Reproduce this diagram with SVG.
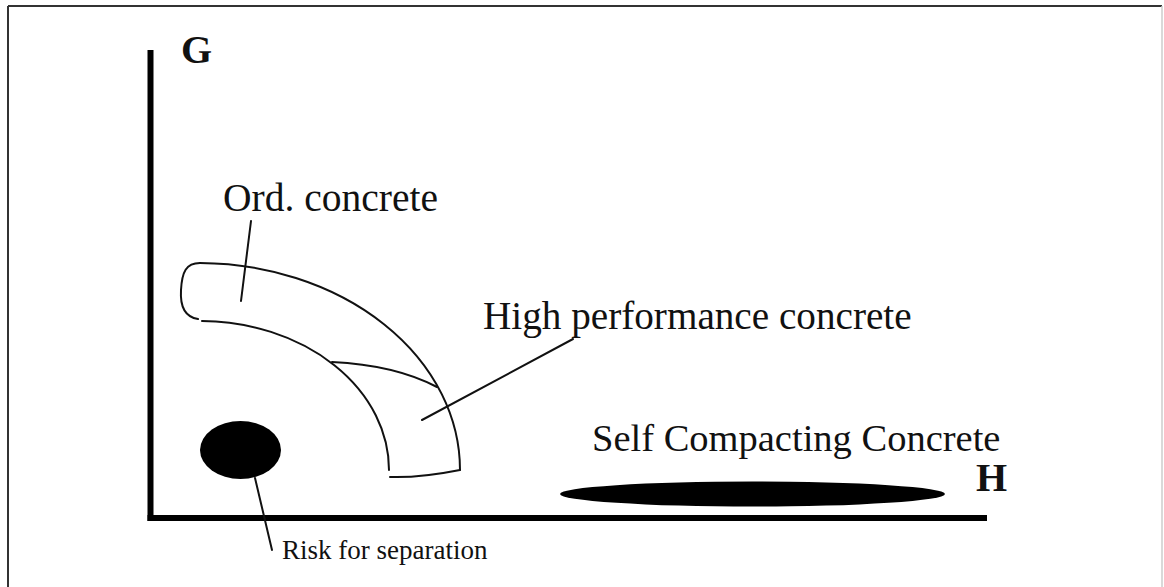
<svg xmlns="http://www.w3.org/2000/svg" width="1164" height="587" viewBox="0 0 1164 587">
<style>
.t{font-family:"Liberation Serif","Times New Roman",serif;fill:#111}
.ax{font-family:"Liberation Serif","Times New Roman",serif;font-weight:bold;fill:#111}
.ln{fill:none;stroke:#111;stroke-width:2;stroke-linecap:round}
.axis{stroke:#000;stroke-width:6;fill:none}
.blob{fill:#000}
</style>
<rect width="1164" height="587" fill="#fff"/>
<g id="frame" fill="none">
<line x1="8" y1="6" x2="1162" y2="6" stroke="#333" stroke-width="2"/>
<line x1="8" y1="6" x2="8" y2="587" stroke="#333" stroke-width="2"/>
<line x1="1162" y1="6" x2="1162" y2="587" stroke="#ccc" stroke-width="1.5"/>
</g>
<g id="axes">
<line class="axis" x1="150.5" y1="50" x2="150.5" y2="521"/>
<line class="axis" x1="147.5" y1="518" x2="987" y2="518"/>
<text id="G" class="ax" x="181" y="63" font-size="40">G</text>
<text id="H" class="ax" x="976" y="491" font-size="40">H</text>
</g>
<g id="band">
<path class="ln" d="M200,263 A262,207 0 0 1 460,470"/>
<path class="ln" d="M202,321 A189,149 0 0 1 389,470"/>
<path class="ln" d="M200,263 C186,263 182,272 181,290 C180,306 185,317 198,319"/>
<path class="ln" d="M460,470 Q420,478 390,477"/>
<path class="ln" d="M332,362 Q395,365 437,387"/>
</g>
<g id="risk">
<ellipse class="blob" cx="240.5" cy="450" rx="40.5" ry="29"/>
<text class="t" x="282" y="559" font-size="27">Risk for separation</text>
</g>
<g id="scc">
<ellipse class="blob" cx="752.5" cy="494" rx="192.5" ry="12.5"/>
<text class="t" x="592" y="451" font-size="38.5">Self Compacting Concrete</text>
</g>
<g id="ord">
<text class="t" x="223" y="211" font-size="39.5">Ord. concrete</text>
</g>
<g id="hpc">
<text class="t" x="483" y="329" font-size="39.2">High performance concrete</text>
</g>
<g id="connectors">
<line class="ln" x1="251" y1="221" x2="241" y2="301"/>
<line class="ln" x1="573" y1="339" x2="422" y2="420"/>
<line class="ln" x1="255" y1="478" x2="272" y2="550"/>
</g>
</svg>
